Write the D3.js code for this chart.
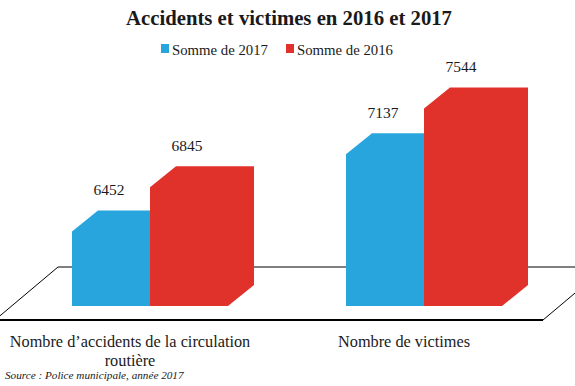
<!DOCTYPE html>
<html>
<head>
<meta charset="utf-8">
<script src="https://cdn.jsdelivr.net/npm/d3@7/dist/d3.min.js"></script>
<style>
  html, body { margin: 0; padding: 0; background: #ffffff; }
  svg { display: block; }
</style>
</head>
<body>
<div id="chart"></div>
<script>
// ---- Data ----
const categories = ["Nombre d\u2019accidents de la circulation|routi\u00e8re", "Nombre de victimes"];
const seriesNames = ["Somme de 2017", "Somme de 2016"];
const values2017 = [6452, 7137];
const values2016 = [6845, 7544];
const titleText = "Accidents et victimes en 2016 et 2017";
const sourceText = "Source : Police municipale, ann\u00e9e 2017";

const colors = ["#29a5dd", "#e0322b"];
const FONT = "'Liberation Serif'";

const W = 575, H = 386;
const svg = d3.select("#chart").append("svg")
  .attr("width", W).attr("height", H);

function txt(sel) {
  return sel.append("text").style("font-family", FONT).attr("fill", "#1a1a1a");
}

// Floor geometry (front edge + depth vector)
const floorFrontY = 320;
const floorDepth = [63, -53];
const barShift = [18, -14];   // bars' front faces sit a little inside the floor
const barDepth = [26, -21];

const x0 = d3.scaleBand().domain(categories).range([-5, 543]).padding(0);
const x1 = d3.scaleBand().domain(seriesNames).range([-78, 78]).padding(0);
const y = d3.scaleLinear().domain([5790, 7600]).range([floorFrontY + barShift[1], floorFrontY + barShift[1] - 1810 * 0.1126]);

// Floor
const fl = x0.range()[0], fr = x0.range()[1];
const floor = svg.append("g");
floor.append("line")
  .attr("x1", fl + floorDepth[0]).attr("y1", floorFrontY + floorDepth[1])
  .attr("x2", fr + floorDepth[0] + 40).attr("y2", floorFrontY + floorDepth[1])
  .attr("stroke", "#000").attr("stroke-width", 1);
floor.append("line")
  .attr("x1", fl).attr("y1", floorFrontY)
  .attr("x2", fl + floorDepth[0]).attr("y2", floorFrontY + floorDepth[1])
  .attr("stroke", "#000").attr("stroke-width", 1);
floor.append("line")
  .attr("x1", fr).attr("y1", floorFrontY)
  .attr("x2", fr + floorDepth[0]).attr("y2", floorFrontY + floorDepth[1])
  .attr("stroke", "#000").attr("stroke-width", 1);
floor.append("line")
  .attr("x1", fl).attr("y1", floorFrontY)
  .attr("x2", fr).attr("y2", floorFrontY)
  .attr("stroke", "#000").attr("stroke-width", 2);

// Bars
const rows = [];
categories.forEach((c, i) => {
  rows.push({ cat: c, s: seriesNames[0], v: values2017[i], color: colors[0] });
  rows.push({ cat: c, s: seriesNames[1], v: values2016[i], color: colors[1] });
});

const barsG = svg.append("g");
rows.forEach(d => {
  const cx = x0(d.cat) + x0.bandwidth() / 2 + barShift[0];
  const xa = cx + x1(d.s);
  const xb = xa + x1.bandwidth();
  const yT = y(d.v);
  const yB = y.range()[0];
  const [dx, dy] = barDepth;
  const pts = [
    [xa, yB], [xa, yT], [xa + dx, yT + dy], [xb + dx, yT + dy], [xb + dx, yB + dy], [xb, yB]
  ];
  barsG.append("polygon")
    .attr("points", pts.map(p => p.join(",")).join(" "))
    .attr("fill", d.color);
  txt(barsG)
    .attr("x", (xa + xb) / 2 - 2)
    .attr("y", yT + dy - 15)
    .attr("text-anchor", "middle")
    .attr("font-size", "15.5px")
    .text(d.v);
});

// Category labels
categories.forEach((c, i) => {
  const lines = c.split("|");
  const cx = x0(c) + x0.bandwidth() / 2;
  lines.forEach((ln, j) => {
    txt(svg)
      .attr("x", cx - 2)
      .attr("y", 347 + j * 19)
      .attr("text-anchor", "middle")
      .attr("font-size", "16.3px")
      .text(ln);
  });
});

// Title
txt(svg)
  .attr("x", 289).attr("y", 25)
  .attr("text-anchor", "middle")
  .attr("font-size", "22px")
  .attr("font-weight", "bold")
  .attr("textLength", 326)
  .attr("lengthAdjust", "spacingAndGlyphs")
  .text(titleText);

// Legend
const legendX = [161, 286];
seriesNames.forEach((s, i) => {
  svg.append("rect")
    .attr("x", legendX[i]).attr("y", 44)
    .attr("width", 8).attr("height", 9)
    .attr("fill", colors[i]);
  txt(svg)
    .attr("x", legendX[i] + 11).attr("y", 54.5)
    .attr("font-size", "15px")
    .attr("textLength", 96)
    .attr("lengthAdjust", "spacingAndGlyphs")
    .text(s);
});

// Source
txt(svg)
  .attr("x", 5).attr("y", 379)
  .attr("font-size", "11.2px")
  .attr("font-style", "italic")
  .text(sourceText);
</script>
</body>
</html>
